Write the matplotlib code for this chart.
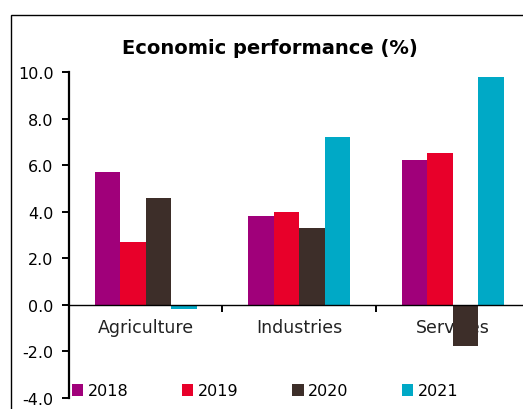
import numpy as np
import matplotlib.pyplot as plt
from matplotlib.patches import Rectangle
from matplotlib.ticker import FormatStrFormatter

plt.rcParams['font.family'] = 'DejaVu Sans'
plt.rcParams['axes.unicode_minus'] = False

# sectors and yearly growth rates (%)
sectors = ['Agriculture', 'Industries', 'Services']
years = ['2018', '2019', '2020', '2021']
growth_2018 = [5.7, 3.8, 6.2]
growth_2019 = [2.7, 4.0, 6.5]
growth_2020 = [4.6, 3.3, -1.8]
growth_2021 = [-0.2, 7.2, 9.8]
colors = ['#A0007A', '#E8002A', '#3D2E29', '#00A9C6']

W, H = 523, 410
fig = plt.figure(figsize=(W / 100, H / 100), dpi=100)

# outer chart frame (only top/left edges visible)
fig.patches.append(Rectangle((11 / W, -0.5), 2.0, 0.5 + (1 - 16 / H),
                             transform=fig.transFigure, fill=False,
                             edgecolor='black', linewidth=1.0))

ax = fig.add_axes([69 / W, 1 - 398.6 / H, 460.5 / W, (398.6 - 73) / H])

series = [growth_2018, growth_2019, growth_2020, growth_2021]
x = np.arange(len(sectors)) + 0.5
bw = 0.166
for i, (vals, c, yr) in enumerate(zip(series, colors, years)):
    ax.bar(x + (i - 1.5) * bw, vals, width=bw, color=c, label=yr, zorder=2)

ax.set_xlim(0, 3)
ax.set_ylim(-4, 10)
ax.set_yticks(np.arange(-4, 10.1, 2))
ax.yaxis.set_major_formatter(FormatStrFormatter('%.1f'))

for s in ['top', 'right']:
    ax.spines[s].set_visible(False)
ax.spines['left'].set_linewidth(1.6)
ax.spines['bottom'].set_position(('data', 0))
ax.spines['bottom'].set_linewidth(1.0)
ax.spines['bottom'].set_zorder(3)

ax.set_xticks([1, 2, 3])
ax.set_xticklabels([])
ax.set_xticks(x, minor=True)
ax.set_xticklabels(sectors, minor=True)
ax.tick_params(axis='x', which='major', direction='out', length=5, width=1.4)
ax.tick_params(axis='x', which='minor', length=0, pad=10, labelsize=12.5,
               labelcolor='#222222')
ax.tick_params(axis='y', direction='out', length=5, width=1.4, labelsize=11.5,
               pad=6)
for lbl in ax.get_xticklabels(minor=True):
    lbl.set_zorder(5)

fig.text(270 / W, 1 - 49 / H, 'Economic performance (%)', ha='center',
         va='center', fontsize=14, fontweight='bold')

ax.legend(loc='center left', bbox_to_anchor=(72 / W, 1 - 392 / H),
          bbox_transform=fig.transFigure, ncol=4, frameon=False,
          borderpad=0, borderaxespad=0, handlelength=0.7, handleheight=0.7,
          handletextpad=0.3, columnspacing=3.35, fontsize=11.5)

fig.savefig('out.png', dpi=100)
